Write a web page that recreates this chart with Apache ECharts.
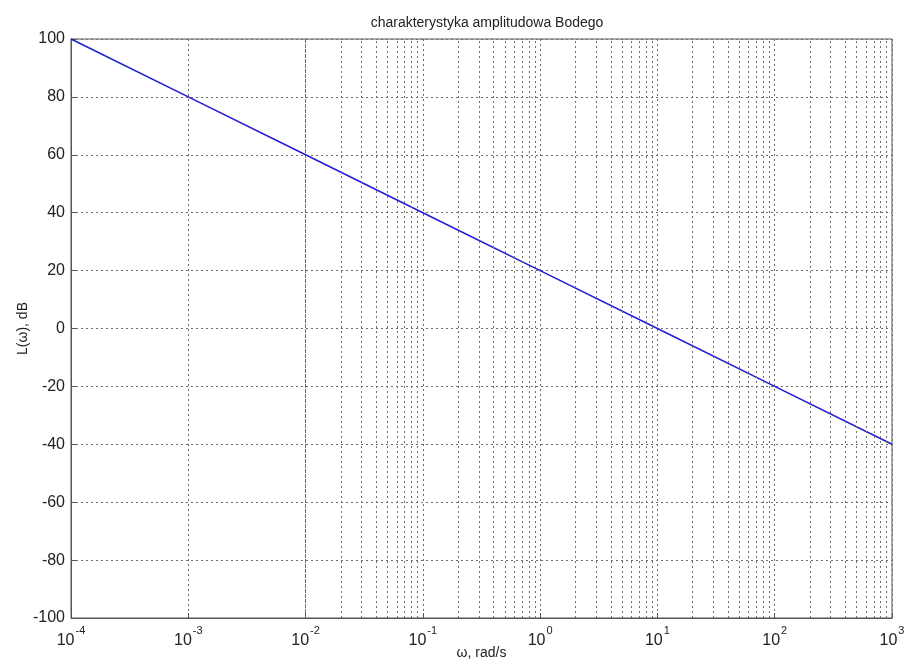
<!DOCTYPE html>
<html>
<head>
<meta charset="utf-8">
<script src="https://cdn.jsdelivr.net/npm/echarts@6/dist/echarts.min.js"></script>
<style>
  html, body { margin: 0; padding: 0; background: #fff; }
  #chart { width: 905px; height: 664px; }
</style>
</head>
<body>
<div id="chart"></div>
<script>
// Bode magnitude: L(w) in dB read at each decade
const omega = [1e-4, 1e-3, 1e-2, 1e-1, 1, 10, 100, 1000]
const magDb = [100, 80, 60, 40, 20, 0, -20, -40]
const decades = [1e-4, 1e-3, 1e-2, 1e-1, 1, 10, 100]
const minorSteps = [2, 3, 4, 5, 6, 7, 8, 9]

const minorGrid = []
decades.forEach(function (d) {
  minorSteps.forEach(function (m) {
    minorGrid.push({ xAxis: d * m })
  })
})

const gridLine = { color: '#6e6e6e', width: 1, type: [2, 3] }
const font = 'Liberation Sans, Arial, sans-serif'

const chart = echarts.init(document.getElementById('chart'))
chart.setOption({
  animation: false,
  backgroundColor: '#fff',
  title: {
    text: 'charakterystyka amplitudowa Bodego',
    left: 482,
    textAlign: 'center',
    top: 11,
    textStyle: { fontFamily: font, fontSize: 14, fontWeight: 'normal', color: '#222' }
  },
  grid: {
    left: 71, right: 13, top: 39, bottom: 46,
    outerBoundsMode: 'none',
    containLabel: false,
    show: true, borderColor: '#555', borderWidth: 1
  },
  xAxis: {
    type: 'log',
    logBase: 10,
    min: 1e-4,
    max: 1e3,
    name: 'ω, rad/s',
    nameLocation: 'middle',
    nameGap: 28,
    nameMoveOverlap: false,
    nameTextStyle: { fontFamily: font, fontSize: 14, color: '#222' },
    axisLine: { onZero: false, lineStyle: { color: '#555' } },
    axisTick: { inside: true, length: 5, lineStyle: { color: '#555' } },
    splitLine: { show: true, lineStyle: gridLine },
    axisLabel: {
      margin: 7,
      formatter: function (v) {
        return '{b|10}{s|' + Math.round(Math.log10(v)) + '}'
      },
      rich: {
        b: { fontFamily: font, fontSize: 16, color: '#222', lineHeight: 24, verticalAlign: 'bottom' },
        s: { fontFamily: font, fontSize: 11, color: '#222', lineHeight: 24, verticalAlign: 'top', padding: [0, 0, 0, 1] }
      }
    }
  },
  yAxis: {
    type: 'value',
    min: -100,
    max: 100,
    interval: 20,
    name: 'L(ω), dB',
    nameLocation: 'middle',
    nameGap: 41,
    nameMoveOverlap: false,
    nameTextStyle: { fontFamily: font, fontSize: 14, color: '#222' },
    axisLine: { show: true, onZero: false, lineStyle: { color: '#555' } },
    axisTick: { show: true, inside: true, length: 5, lineStyle: { color: '#555' } },
    splitLine: { show: true, lineStyle: gridLine },
    axisLabel: { fontFamily: font, fontSize: 16, color: '#222', margin: 6 }
  },
  series: [{
    type: 'line',
    data: omega.map(function (w, i) { return [w, magDb[i]] }),
    showSymbol: false,
    lineStyle: { color: '#1f1fd6', width: 1.6 },
    markLine: {
      silent: true,
      symbol: 'none',
      label: { show: false },
      lineStyle: gridLine,
      data: minorGrid
    }
  }]
})
</script>
</body>
</html>
